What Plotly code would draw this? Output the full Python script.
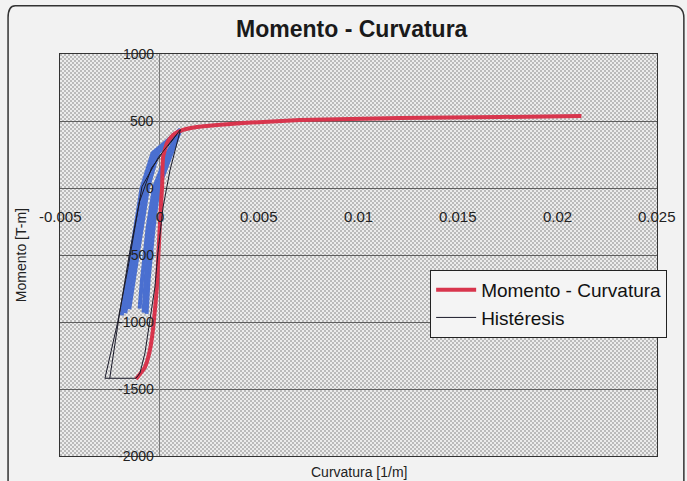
import base64
import struct
import zlib

import plotly.graph_objects as go

# Momento - Curvatura envelope
curv_mc = [-0.00118, -0.00073, -0.00048, -0.00033, -0.00023, -0.00013, -0.00008,
           0.00003, 0.00013, 0.00018, 0.00038, 0.00068, 0.00118, 0.00188, 0.00289,
           0.0042, 0.00706, 0.0121, 0.0171, 0.0212]
mom_mc = [-1425, -1336, -1209, -1060, -910, -739, -575,
          -239, 7, 231, 336, 396, 433, 455, 470,
          485, 507, 522, 530, 537]

# Hysteresis: outer cycle
curv_h_outer = [0.00105, 0.0005, -0.00005, -0.00088, -0.0016, -0.0021, -0.00274,
                -0.00118, -0.00098, -0.00073, -0.00048, -0.00023, -0.00008,
                0.00018, 0.00053, 0.00105]
mom_h_outer = [435, 330, 230, 10, -610, -1000, -1420,
               -1420, -1380, -1231, -985, -739, -485,
               -142, 134, 435]

# Hysteresis: second reloading branch from the lower plateau
curv_h_inner = [-0.0025, -0.0020, -0.0015, -0.0010, -0.0004, 0.00105]
mom_h_inner = [-1420, -930, -480, -100, 150, 435]

# Hysteresis: intermediate cycles, unloading branches
curv_h_unl = [
    [0.00105, 0.0006, -0.00005, -0.0003, -0.00055, -0.00065],
    [0.00105, 0.0005, -0.00015, -0.00045, -0.0007, -0.0008],
    [0.00105, 0.0004, -0.00028, -0.0006, -0.00088, -0.001],
]
mom_h_unl = [
    [435, 260, 0, -300, -687, -940],
    [435, 260, 0, -300, -687, -930],
    [435, 260, 0, -300, -687, -900],
]
# Hysteresis: intermediate cycles, reloading branches
curv_h_rel = [
    [-0.0019, -0.0016, -0.00122, -0.0009, -0.00035, 0.00105],
    [-0.00172, -0.00145, -0.00105, -0.00072, -0.0002, 0.00105],
    [-0.00152, -0.0013, -0.0009, -0.00058, -0.00008, 0.00105],
]
mom_h_rel = [
    [-950, -687, -300, 0, 260, 435],
    [-935, -687, -300, 0, 260, 435],
    [-905, -687, -300, 0, 260, 435],
]

x_ticks = [-0.005, 0, 0.005, 0.01, 0.015, 0.02, 0.025]
x_tick_text = ["-0.005", "0", "0.005", "0.01", "0.015", "0.02", "0.025"]
y_ticks = [1000, 500, 0, -500, -1000, -1500, -2000]
y_tick_text = ["1000", "500", "0", "-500", "-1000", "-1500", "-2000"]

FONT = "Liberation Sans Narrow, Liberation Sans, Arial, sans-serif"
BLUE = "#4a6fd0"
RED = "#d8354d"
DARK = "#1a1a2a"

W, H = 687, 481
ML, MR, MT, MB = 60, 30, 54, 25
PW, PH = W - ML - MR, H - MT - MB


def dotted_png(w, h, dark=186, light=236):
    """Grey dotted fill for the plotting area, as a PNG data URI."""
    rows = bytearray()
    for y in range(h):
        rows.append(0)
        for x in range(w):
            rows.append(dark if ((x // 2 + y // 2) % 2 == 0) else light)

    def chunk(tag, data):
        c = struct.pack(">I", len(data)) + tag + data
        return c + struct.pack(">I", zlib.crc32(tag + data) & 0xFFFFFFFF)

    png = b"\x89PNG\r\n\x1a\n"
    png += chunk(b"IHDR", struct.pack(">IIBBBBB", w, h, 8, 0, 0, 0, 0))
    png += chunk(b"IDAT", zlib.compress(bytes(rows), 9))
    png += chunk(b"IEND", b"")
    return "data:image/png;base64," + base64.b64encode(png).decode()


fig = go.Figure()

for cx, cy in zip(curv_h_unl + curv_h_rel, mom_h_unl + mom_h_rel):
    fig.add_trace(go.Scatter(x=cx, y=cy, mode="lines", showlegend=False,
                             line=dict(color=BLUE, width=4), hoverinfo="skip"))

fig.add_trace(go.Scatter(x=curv_h_inner, y=mom_h_inner, mode="lines", showlegend=False,
                         line=dict(color=DARK, width=1), hoverinfo="skip"))

fig.add_trace(go.Scatter(x=curv_mc, y=mom_mc, mode="lines", name="Momento - Curvatura",
                         line=dict(color=RED, width=4, shape="spline", smoothing=0.5)))

fig.add_trace(go.Scatter(x=curv_h_outer, y=mom_h_outer, mode="lines", name="Histéresis",
                         line=dict(color=DARK, width=1)))

# tick labels sit on the axes crossing at zero
annotations = []
for v, t in zip(y_ticks, y_tick_text):
    annotations.append(dict(x=0, y=v, xref="x", yref="y", text=t, showarrow=False,
                            xanchor="right", yanchor="middle", xshift=-4,
                            font=dict(family=FONT, size=14, color="#222")))
for v, t in zip(x_ticks, x_tick_text):
    annotations.append(dict(x=v, y=0, xref="x", yref="y", text=t, showarrow=False,
                            xanchor="center", yanchor="top", yshift=-18,
                            font=dict(family=FONT, size=15, color="#222")))
annotations.append(dict(x=0.5, y=-0.015, xref="paper", yref="paper", text="Curvatura [1/m]",
                        showarrow=False, xanchor="center", yanchor="top",
                        font=dict(family=FONT, size=14, color="#222")))
annotations.append(dict(x=-0.065, y=0.5, xref="paper", yref="paper", text="Momento [T-m]",
                        showarrow=False, textangle=-90, xanchor="center", yanchor="middle",
                        font=dict(family=FONT, size=14, color="#222")))

fig.update_layout(
    width=W, height=H,
    margin=dict(l=ML, r=MR, t=MT, b=MB),
    paper_bgcolor="#f2f2f2",
    plot_bgcolor="rgba(0,0,0,0)",
    title=dict(text="<b>Momento - Curvatura</b>", x=0.512, xanchor="center",
               y=0.94, yanchor="middle",
               font=dict(family=FONT, size=23, color="#1a1a1a")),
    xaxis=dict(range=[-0.005, 0.025], showgrid=False, showticklabels=False,
               zeroline=True, zerolinecolor="#7a7a7a", zerolinewidth=1,
               showline=True, mirror=True, linecolor="#333", linewidth=1.2, ticks=""),
    yaxis=dict(range=[-2000, 1000], dtick=500, showgrid=True, gridcolor="#5e5e5e",
               gridwidth=1.2, showticklabels=False, zeroline=True, zerolinecolor="#5e5e5e",
               zerolinewidth=1.2, showline=True, mirror=True, linecolor="#333",
               linewidth=1.2, ticks=""),
    legend=dict(x=0.62, y=0.463, xanchor="left", yanchor="top",
                bgcolor="#f4f4f4", bordercolor="#222", borderwidth=1,
                font=dict(family=FONT, size=19, color="#111"),
                tracegroupgap=0, itemwidth=40),
    annotations=annotations,
    images=[dict(source=dotted_png(PW, PH), xref="paper", yref="paper",
                 x=0, y=1, sizex=1, sizey=1, xanchor="left", yanchor="top",
                 sizing="stretch", layer="below")],
    shapes=[dict(type="path", xref="paper", yref="paper",
                 path="M -0.075,1.12 L 1.025,1.12 Q 1.045,1.12 1.045,1.09 L 1.045,-0.2 "
                      "M -0.087,-0.2 L -0.087,1.09 Q -0.087,1.12 -0.075,1.12",
                 line=dict(color="#333", width=1.5), layer="below")],
)

fig.write_html("out.html")
